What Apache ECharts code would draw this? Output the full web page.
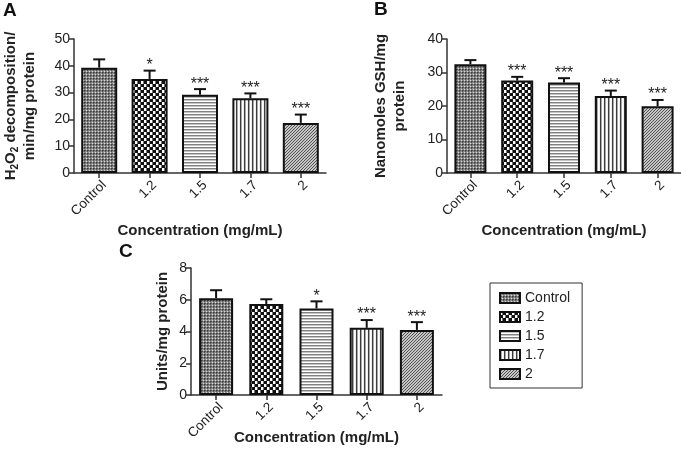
<!DOCTYPE html>
<html><head><meta charset="utf-8">
<script src="https://cdn.jsdelivr.net/npm/echarts@6/dist/echarts.min.js"></script>
<style>html,body{margin:0;padding:0;background:#fff}#c{width:681px;height:460px}</style>
</head><body><div id="c"></div>
<script>
// ---- data ----
const categories = ['Control', '1.2', '1.5', '1.7', '2'];
const h2o2Mean = [39.3, 35.1, 29.2, 27.9, 18.7];
const h2o2Err  = [3.1, 3.1, 2.1, 1.8, 3.1];
const h2o2Sig  = ['', '*', '***', '***', '***'];
const gshMean  = [32.5, 27.6, 27.0, 23.0, 19.9];
const gshErr   = [1.2, 1.1, 1.3, 1.6, 1.9];
const gshSig   = ['', '***', '***', '***', '***'];
const unitsMean = [6.1, 5.73, 5.45, 4.23, 4.1];
const unitsErr  = [0.5, 0.3, 0.45, 0.49, 0.49];
const unitsSig  = ['', '', '*', '***', '***'];
const yMax = [50, 40, 8];
const yInterval = [10, 10, 2];

const FONT = 'Arial, "Liberation Sans", sans-serif';
const INK = '#222';

function px(ctx, col, x, y) { ctx.fillStyle = col; ctx.fillRect(x, y, 1, 1); }
function makePattern(kind) {
  const c = document.createElement('canvas');
  let ctx;
  if (kind === 0) { // fine gray texture
    c.width = 3; c.height = 3; ctx = c.getContext('2d');
    ctx.fillStyle = '#8a8a8a'; ctx.fillRect(0, 0, 3, 3);
    px(ctx, '#3a3a3a', 0, 0); px(ctx, '#555', 1, 0); px(ctx, '#555', 0, 1);
    px(ctx, '#d8d8d8', 2, 2);
  } else if (kind === 1) { // checker
    c.width = 6; c.height = 6; ctx = c.getContext('2d');
    ctx.fillStyle = '#111'; ctx.fillRect(0, 0, 6, 6);
    ctx.fillStyle = '#fff'; ctx.fillRect(0, 0, 3, 3); ctx.fillRect(3, 3, 3, 3);
    ctx.fillStyle = '#777'; ctx.fillRect(2, 0, 1, 3); ctx.fillRect(5, 3, 1, 3);
  } else if (kind === 2) { // horizontal lines
    c.width = 1; c.height = 3; ctx = c.getContext('2d');
    px(ctx, '#808080', 0, 0); px(ctx, '#c4c4c4', 0, 1); px(ctx, '#fff', 0, 2);
  } else if (kind === 3) { // vertical lines
    c.width = 4; c.height = 1; ctx = c.getContext('2d');
    px(ctx, '#3c3c3c', 0, 0); px(ctx, '#a8a8a8', 1, 0); px(ctx, '#fff', 2, 0); px(ctx, '#f0f0f0', 3, 0);
  } else { // diagonal
    c.width = 3; c.height = 3; ctx = c.getContext('2d');
    ctx.fillStyle = '#c4c4c4'; ctx.fillRect(0, 0, 3, 3);
    px(ctx, '#555', 0, 2); px(ctx, '#555', 1, 1); px(ctx, '#555', 2, 0);
  }
  return { image: c, repeat: 'repeat' };
}
const patterns = categories.map((_, i) => makePattern(i));

function barSeries(p, means, bw) {
  return categories.map((name, i) => ({
    type: 'bar', name, xAxisIndex: p, yAxisIndex: p, stack: 'p' + p, barWidth: bw,
    data: means.map((v, j) => (j === i ? v : '-')),
    itemStyle: { color: patterns[i], borderColor: '#111', borderWidth: 2 },
    emphasis: { disabled: true }, silent: true
  }));
}
function errSeries(p, means, errs, sig) {
  return {
    type: 'custom', xAxisIndex: p, yAxisIndex: p, z: 10, silent: true,
    data: means.map((m, i) => [i, m, m + errs[i]]),
    encode: { x: 0, y: 2 },
    renderItem: (params, api) => {
      const base = api.coord([api.value(0), api.value(1)]);
      const top = api.coord([api.value(0), api.value(2)]);
      const hw = 6;
      const ch = [
        { type: 'line', shape: { x1: base[0], y1: base[1], x2: top[0], y2: top[1] }, style: { stroke: '#111', lineWidth: 2 } },
        { type: 'line', shape: { x1: top[0] - hw, y1: top[1], x2: top[0] + hw, y2: top[1] }, style: { stroke: '#111', lineWidth: 2 } }
      ];
      const s = sig[params.dataIndex];
      if (s) ch.push({ type: 'text', style: { text: s, x: top[0], y: top[1] + 3, align: 'center', verticalAlign: 'bottom', fontSize: 16, fontFamily: FONT, fill: INK } });
      return { type: 'group', children: ch };
    }
  };
}

const axisLine = { show: true, lineStyle: { color: '#333', width: 1.5 } };
function xAx(p, gap) {
  return {
    type: 'category', gridIndex: p, data: categories,
    axisLine, axisTick: { show: true, alignWithLabel: true, length: 5, lineStyle: { color: '#333', width: 1.5 } },
    axisLabel: { rotate: 45, fontSize: 13.5, color: INK, fontFamily: FONT, margin: 5, interval: 0, verticalAlign: 'top' },
    name: 'Concentration (mg/mL)', nameLocation: 'middle', nameGap: gap, nameMoveOverlap: false,
    nameTextStyle: { fontSize: 15, fontWeight: 'bold', color: INK, fontFamily: FONT }
  };
}
function yAx(p, name, gap, rich) {
  return {
    type: 'value', gridIndex: p, min: 0, max: yMax[p], interval: yInterval[p],
    axisLine, axisTick: { show: true, length: 5, lineStyle: { color: '#333', width: 1.5 } },
    axisLabel: { fontSize: 14, color: INK, fontFamily: FONT, margin: 4 },
    splitLine: { show: false },
    name, nameLocation: 'middle', nameGap: gap, nameRotate: 90,
    nameTextStyle: { fontSize: 15, fontWeight: 'bold', color: INK, fontFamily: FONT, lineHeight: 19, align: 'center', rich }
  };
}
const richA = {
  t: { fontSize: 15, fontWeight: 'bold', color: INK, fontFamily: FONT, lineHeight: 19 },
  s: { fontSize: 10, fontWeight: 'bold', color: INK, fontFamily: FONT, lineHeight: 12, verticalAlign: 'bottom' }
};

const option = {
  animation: false,
  backgroundColor: '#fff',
  title: [
    { text: 'A', left: 3, top: 1, padding: 0, textStyle: { fontSize: 19, fontWeight: 'bold', color: '#111', fontFamily: FONT } },
    { text: 'B', left: 374, top: 0, padding: 0, textStyle: { fontSize: 19, fontWeight: 'bold', color: '#111', fontFamily: FONT } },
    { text: 'C', left: 119, top: 242, padding: 0, textStyle: { fontSize: 19, fontWeight: 'bold', color: '#111', fontFamily: FONT } }
  ],
  grid: [
    { left: 74, top: 39, width: 252, height: 134 },
    { left: 447, top: 39, width: 234, height: 134 },
    { left: 191, top: 268, width: 251, height: 127 }
  ],
  xAxis: [xAx(0, 50), xAx(1, 50), xAx(2, 35)],
  yAxis: [
    yAx(0, '{t|H}{s|2}{t|O}{s|2}{t| decomposition/}\n{t|min/mg protein}', 35, richA),
    yAx(1, 'Nanomoles GSH/mg\nprotein', 38),
    yAx(2, 'Units/mg protein', 19)
  ],
  legend: {
    data: categories, orient: 'vertical', left: 490, top: 283,
    borderColor: '#333', borderWidth: 1, padding: [8, 12, 7, 9], itemGap: 5,
    itemWidth: 20, itemHeight: 10, icon: 'rect', selectedMode: false,
    textStyle: { fontSize: 14, color: INK, fontFamily: FONT }
  },
  series: [
    ...barSeries(0, h2o2Mean, 36), errSeries(0, h2o2Mean, h2o2Err, h2o2Sig),
    ...barSeries(1, gshMean, 32), errSeries(1, gshMean, gshErr, gshSig),
    ...barSeries(2, unitsMean, 34), errSeries(2, unitsMean, unitsErr, unitsSig)
  ]
};
const chart = echarts.init(document.getElementById('c'), null, { renderer: 'canvas' });
chart.setOption(option);
</script></body></html>
